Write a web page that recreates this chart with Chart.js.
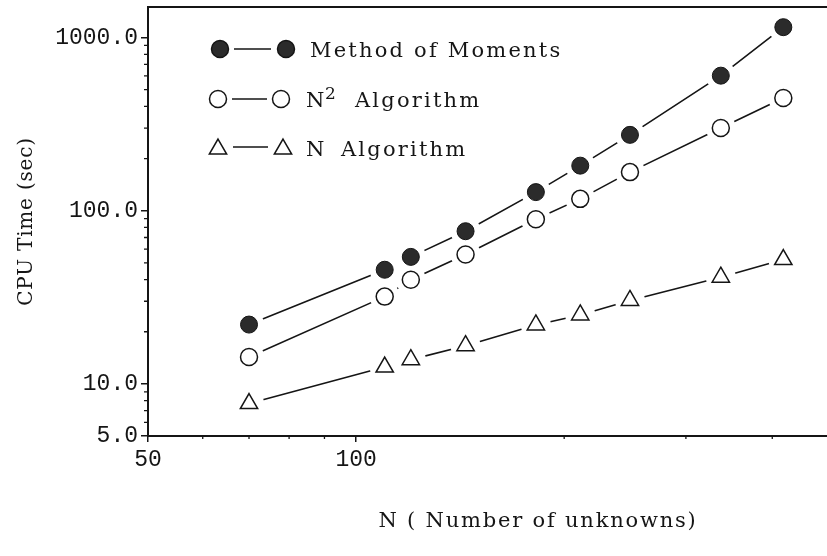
<!DOCTYPE html>
<html>
<head>
<meta charset="utf-8">
<script src="https://cdn.jsdelivr.net/npm/chart.js@4.4.1/dist/chart.umd.min.js"></script>
<style>
  html, body { margin: 0; padding: 0; background: #fff; }
  #wrap { width: 827px; height: 556px; }
</style>
</head>
<body>
<div id="wrap"><canvas id="cpu-chart"></canvas></div>
<script>
// N (number of unknowns)
var unknowns = [70, 110, 120, 144, 182, 211, 249, 337, 415];

// CPU time (sec) for each method
var momTimes = [22.0, 45.6, 54.1, 76.1, 128, 182, 274, 602, 1147];
var n2Times  = [14.3, 31.9, 39.9, 55.9, 89.3, 117, 167, 300, 447];
var nTimes   = [7.7, 12.5, 13.8, 16.6, 21.9, 25.0, 30.3, 41.3, 52.2];

// axis ticks
var xTickLabels = [50, 100];
var xMinorTicks = [60, 70, 80, 90, 200, 300, 400];
var yTickLabels = [5, 10, 100, 1000];
var yMinorTicks = [6, 7, 8, 9, 20, 30, 40, 50, 60, 70, 80, 90, 200, 300, 400, 500, 600, 700, 800, 900];

var INK = '#151515';
var MONO = '"Liberation Mono", "DejaVu Sans Mono", monospace';
var SERIF = '"DejaVu Serif", "Liberation Serif", serif';

function pts(times) {
  return unknowns.map(function(n, i) { return { x: n, y: times[i] }; });
}

function lineSet(times) {
  return { data: pts(times), showLine: true, borderColor: INK, borderWidth: 1.6,
           pointRadius: 0, order: 3 };
}
function maskSet(times) {
  return { data: pts(times), showLine: false, pointRadius: 15, pointBorderWidth: 0,
           pointBackgroundColor: '#fff', pointBorderColor: '#fff', order: 2 };
}

function noPad(s) {
  s.paddingTop = 0; s.paddingBottom = 0; s.paddingLeft = 0; s.paddingRight = 0;
}

// top frame line, minor ticks, legend and axis titles
var extras = {
  id: 'extras',
  beforeDraw: function(chart) { chart.ctx.letterSpacing = '0px'; },
  afterDraw: function(chart) {
    var ctx = chart.ctx, a = chart.chartArea;
    var xs = chart.scales.x, ys = chart.scales.y;
    ctx.save();
    ctx.strokeStyle = INK;
    ctx.lineWidth = 2;
    ctx.beginPath();
    ctx.moveTo(a.left - 1, a.top);
    ctx.lineTo(a.right, a.top);
    ctx.stroke();

    ctx.lineWidth = 1.3;
    ctx.beginPath();
    yMinorTicks.forEach(function(v) {
      var y = ys.getPixelForValue(v);
      ctx.moveTo(a.left - 4, y);
      ctx.lineTo(a.left + 1, y);
    });
    xMinorTicks.forEach(function(v) {
      var x = xs.getPixelForValue(v);
      ctx.moveTo(x, a.bottom - 1);
      ctx.lineTo(x, a.bottom + 3);
    });
    ctx.stroke();

    // legend
    var rows = [
      { y: 49, style: 'circle', fill: '#2b2b2b', x1: 220, x2: 286, l1: 234, l2: 271 },
      { y: 99, style: 'circle', fill: '#fff', x1: 218, x2: 281, l1: 232, l2: 267 },
      { y: 147, style: 'triangle', fill: '#fff', x1: 218, x2: 283, l1: 233, l2: 268 }
    ];
    rows.forEach(function(r) {
      ctx.strokeStyle = INK;
      ctx.lineWidth = 1.6;
      ctx.beginPath();
      ctx.moveTo(r.l1, r.y);
      ctx.lineTo(r.l2, r.y);
      ctx.stroke();
      [r.x1, r.x2].forEach(function(px) {
        ctx.fillStyle = r.fill;
        ctx.strokeStyle = INK;
        ctx.lineWidth = 1.5;
        Chart.helpers.drawPoint(ctx, {
          pointStyle: r.style, radius: r.style === 'triangle' ? 10 : 8.5,
          borderWidth: 1.5, rotation: 0
        }, px, r.style === 'triangle' ? r.y + 2 : r.y);
      });
    });
    ctx.fillStyle = INK;
    ctx.textAlign = 'left';
    ctx.textBaseline = 'alphabetic';
    ctx.font = '21px ' + SERIF;
    ctx.letterSpacing = '2.2px';
    ctx.fillText('Method of Moments', 310, 57);
    ctx.fillText('N', 306, 107);
    ctx.fillText('Algorithm', 355, 107);
    ctx.fillText('N', 306, 156);
    ctx.fillText('Algorithm', 341, 156);
    ctx.font = '17px ' + SERIF;
    ctx.letterSpacing = '0px';
    ctx.fillText('2', 325, 99);

    // x axis title
    ctx.font = '21px ' + SERIF;
    ctx.letterSpacing = '1.8px';
    ctx.textAlign = 'center';
    ctx.fillText('N ( Number of unknowns)', a.left + 390, chart.height - 29);

    // y axis title
    ctx.font = '20px ' + SERIF;
    ctx.letterSpacing = '0.8px';
    ctx.translate(32, (a.top + a.bottom) / 2);
    ctx.rotate(-Math.PI / 2);
    ctx.fillText('CPU Time (sec)', 0, 0);
    ctx.restore();
  }
};

var cpuChart = new Chart(document.getElementById('cpu-chart'), {
  type: 'scatter',
  data: {
    datasets: [
      lineSet(momTimes), lineSet(n2Times), lineSet(nTimes),
      maskSet(momTimes), maskSet(n2Times), maskSet(nTimes),
      { data: pts(momTimes), showLine: false, pointStyle: 'circle', pointRadius: 8.5,
        pointBackgroundColor: '#2b2b2b', pointBorderColor: INK, pointBorderWidth: 1, order: 1 },
      { data: pts(n2Times), showLine: false, pointStyle: 'circle', pointRadius: 8.5,
        pointBackgroundColor: '#fff', pointBorderColor: INK, pointBorderWidth: 1.5, order: 1 },
      { data: pts(nTimes), showLine: false, pointStyle: 'triangle', pointRadius: 10,
        pointBackgroundColor: '#fff', pointBorderColor: INK, pointBorderWidth: 1.5, order: 1 }
    ]
  },
  options: {
    responsive: true,
    maintainAspectRatio: false,
    animation: false,
    events: [],
    layout: { autoPadding: false, padding: { top: 7, right: 0, left: 0, bottom: 0 } },
    plugins: { legend: { display: false }, tooltip: { enabled: false } },
    scales: {
      x: {
        type: 'logarithmic',
        position: 'bottom',
        min: 50,
        max: 480,
        border: { color: INK, width: 2 },
        grid: { drawOnChartArea: false, drawTicks: true, tickLength: 6, color: INK, lineWidth: 1.5 },
        ticks: {
          color: INK, font: { family: MONO, size: 23 }, padding: 4,
          autoSkip: false, maxRotation: 0,
          callback: function(v) { return xTickLabels.indexOf(v) >= 0 ? String(v) : ''; }
        },
        afterBuildTicks: function(s) { s.ticks = xTickLabels.map(function(v) { return { value: v }; }); },
        afterFit: function(s) { s.height = 120; noPad(s); }
      },
      y: {
        type: 'logarithmic',
        min: 5,
        max: 1500,
        border: { color: INK, width: 2 },
        grid: { drawOnChartArea: false, drawTicks: true, tickLength: 7, color: INK, lineWidth: 1.5 },
        ticks: {
          color: INK, font: { family: MONO, size: 23 }, padding: 3, autoSkip: false,
          callback: function(v) { return yTickLabels.indexOf(v) >= 0 ? v.toFixed(1) : ''; }
        },
        afterBuildTicks: function(s) { s.ticks = yTickLabels.map(function(v) { return { value: v }; }); },
        afterFit: function(s) { s.width = 148; noPad(s); }
      }
    }
  },
  plugins: [extras]
});
</script>
</body>
</html>
